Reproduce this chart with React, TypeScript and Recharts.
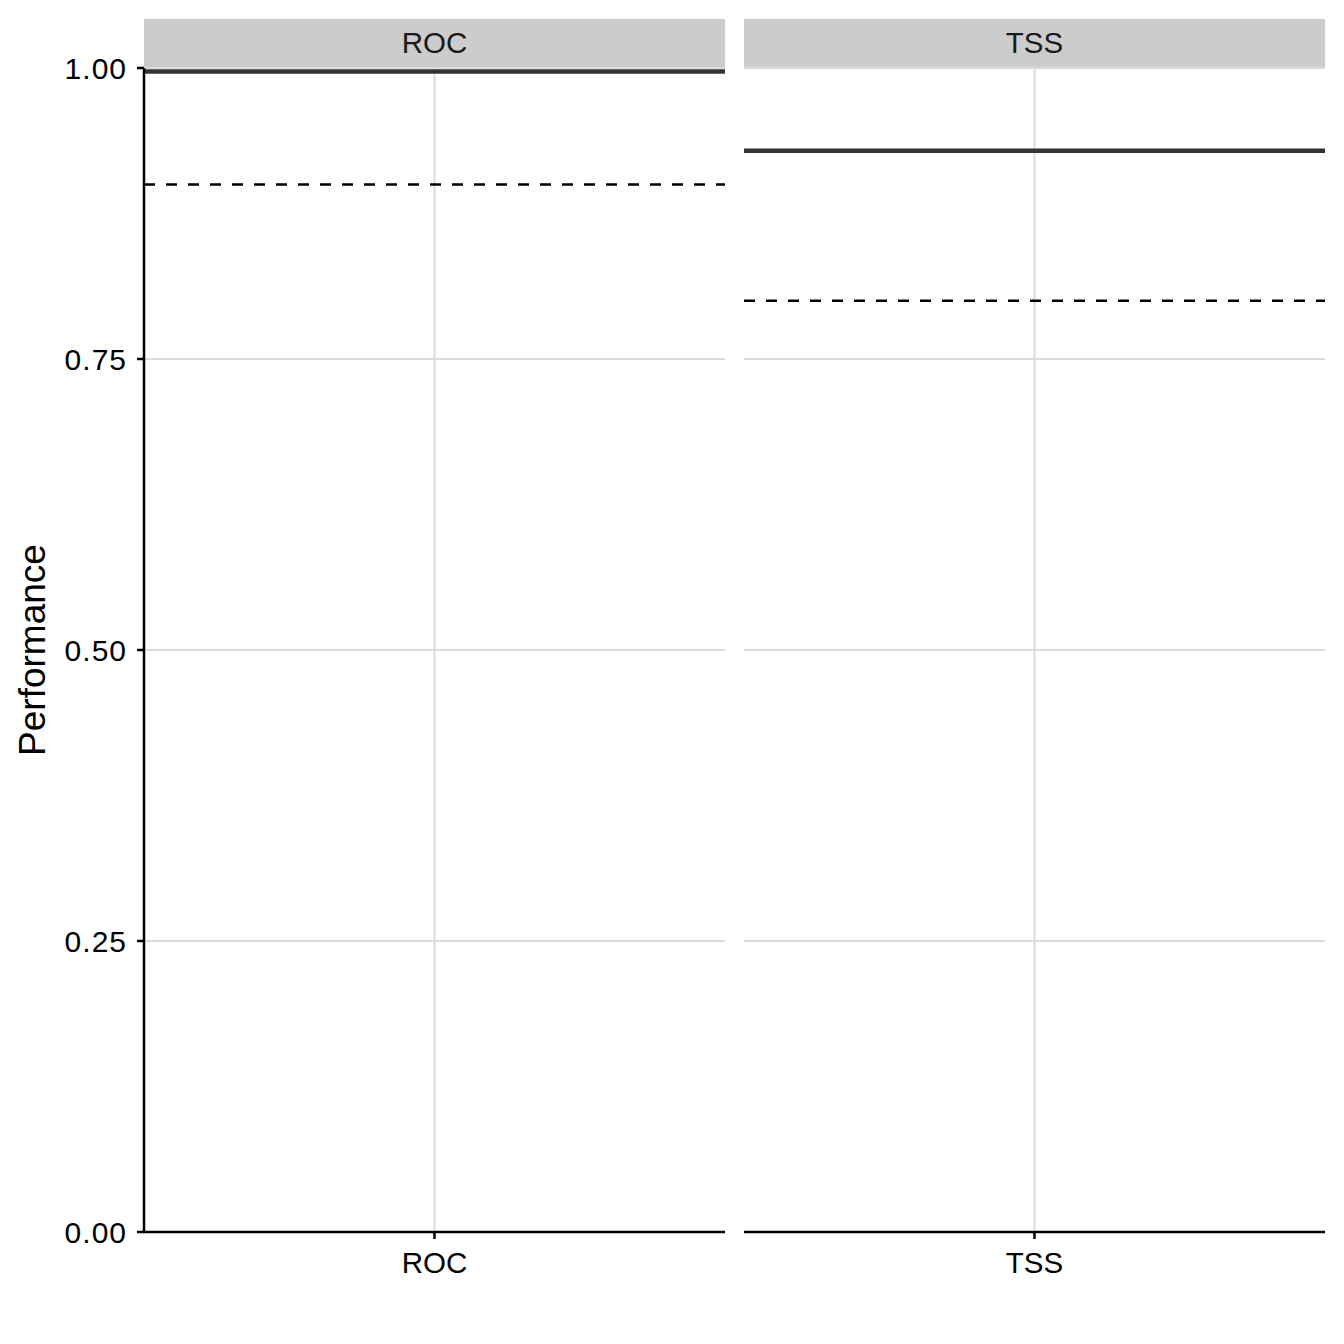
import React from 'react';
import { ComposedChart, XAxis, YAxis, CartesianGrid, ReferenceLine, Scatter } from 'recharts';

const metrics = ['ROC', 'TSS'];
const meanScores = [0.997, 0.929];
const thresholds = [0.9, 0.8];
const yTicks = [0, 0.25, 0.5, 0.75, 1];

const FONT = '"Liberation Sans", Arial, Helvetica, sans-serif';
const PANEL_W = 581;
const PANEL_GAP = 19;
const PLOT_LEFT = 144;
const PLOT_TOP = 68;
const PLOT_BOTTOM = 1232;
const X_AXIS_H = 60;
const Y_AXIS_W = 144;
const RIGHT_PAD = 6;

const YTitle = (props: any) => {
  const vb = props.viewBox || {};
  const cy = (vb.y ?? PLOT_TOP) + (vb.height ?? PLOT_BOTTOM - PLOT_TOP) / 2;
  const x = 45;
  return (
    <text
      x={x}
      y={cy}
      transform={`rotate(-90 ${x} ${cy})`}
      textAnchor="middle"
      fontSize={37}
      fontFamily={FONT}
      fill="#000"
    >
      Performance
    </text>
  );
};

const NoShape = () => <g />;

function Panel({ i }: { i: number }) {
  const first = i === 0;
  const data = [{ metric: metrics[i], score: meanScores[i], threshold: thresholds[i] }];
  const panelLeft = PLOT_LEFT + i * (PANEL_W + PANEL_GAP);
  const chartLeft = first ? panelLeft - Y_AXIS_W : panelLeft;
  const width = (first ? Y_AXIS_W : 0) + PANEL_W + RIGHT_PAD;
  const height = 1344;
  return (
    <>
      <div
        style={{
          position: 'absolute',
          left: panelLeft,
          top: 19,
          width: PANEL_W,
          height: PLOT_TOP - 1 - 19,
          background: '#CCCCCC',
          color: '#1A1A1A',
          fontFamily: FONT,
          fontSize: 29.5,
          lineHeight: `${PLOT_TOP - 1 - 19}px`,
          textAlign: 'center',
        }}
      >
        {metrics[i]}
      </div>
      <div style={{ position: 'absolute', left: chartLeft, top: 0 }}>
        <ComposedChart
          width={width}
          height={height}
          data={data}
          margin={{ top: PLOT_TOP, right: RIGHT_PAD, left: 0, bottom: height - PLOT_BOTTOM - X_AXIS_H }}
        >
          <CartesianGrid stroke="#DBDBDB" strokeWidth={2} horizontalValues={yTicks} syncWithTicks />
          <XAxis
            dataKey="metric"
            height={X_AXIS_H}
            axisLine={{ stroke: '#000', strokeWidth: 2.5 }}
            tickLine={{ stroke: '#000', strokeWidth: 2.5 }}
            tickSize={7}
            tickMargin={13}
            tick={{ fill: '#000', fontSize: 29.5, fontFamily: FONT }}
          />
          <YAxis
            type="number"
            domain={[0, 1]}
            ticks={yTicks}
            allowDataOverflow
            hide={!first}
            width={Y_AXIS_W}
            axisLine={{ stroke: '#000', strokeWidth: 2.5 }}
            tickLine={{ stroke: '#000', strokeWidth: 2.5 }}
            tickSize={7}
            tickMargin={10}
            tickFormatter={(v: number) => v.toFixed(2)}
            tick={{ fill: '#000', fontSize: 30, fontFamily: FONT, letterSpacing: 1 }}
            label={first ? <YTitle /> : undefined}
          />
          <Scatter dataKey="score" shape={NoShape} isAnimationActive={false} />
          <Scatter dataKey="threshold" shape={NoShape} isAnimationActive={false} />
          <ReferenceLine y={data[0].threshold} stroke="#000" strokeWidth={2.5} strokeDasharray="11 11" />
          <ReferenceLine y={data[0].score} stroke="#333333" strokeWidth={4.5} />
        </ComposedChart>
      </div>
    </>
  );
}

export default function App() {
  return (
    <div
      style={{
        position: 'absolute',
        left: 0,
        top: 0,
        width: 1344,
        height: 1344,
        background: '#fff',
        overflow: 'hidden',
      }}
    >
      {metrics.map((m, i) => (
        <Panel key={m} i={i} />
      ))}
    </div>
  );
}
